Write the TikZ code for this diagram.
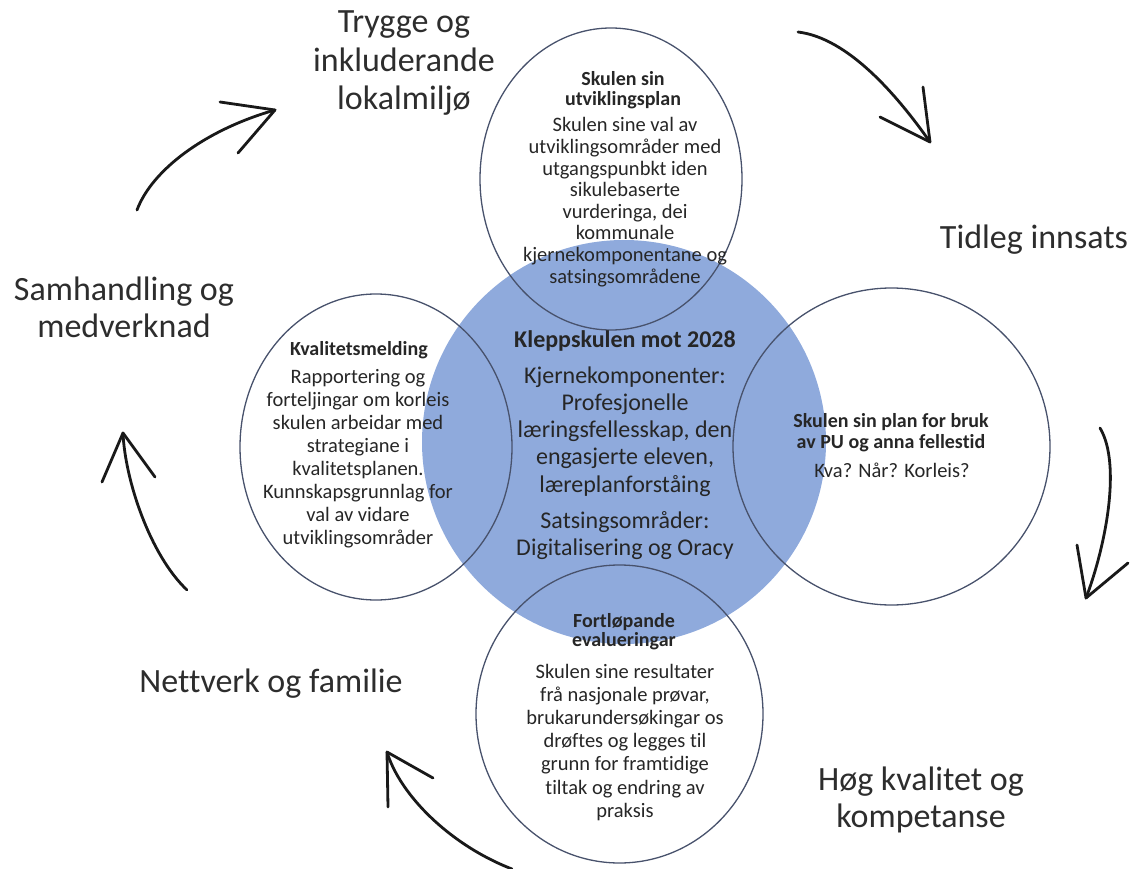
\documentclass[tikz,border=0pt]{standalone}
\usepackage{fontspec}
\setmainfont{Carlito}[Ligatures=NoCommon]
\usetikzlibrary{shapes.geometric}
\definecolor{bluefill}{HTML}{8FAADC}
\definecolor{ringcol}{RGB}{72,82,108}
\definecolor{txt}{RGB}{38,38,38}
\definecolor{lbl}{RGB}{45,45,45}
\definecolor{arrcol}{RGB}{25,25,25}
\newcommand{\blk}[3]{\fontsize{#1}{#2}\selectfont\begin{tabular}[t]{@{}c@{}}#3\end{tabular}}
\tikzset{
  ring/.style={draw=ringcol, line width=1.3pt, fill=none, inner sep=0pt},
  ttl/.style={anchor=base, inner sep=0pt, text=txt, font=\bfseries},
  body/.style={anchor=base, inner sep=0pt, text=txt},
  outer/.style={anchor=base, inner sep=0pt, text=lbl},
  arr/.style={draw=arrcol, line width=2.8pt, line cap=round, line join=round}
}
\begin{document}
\begin{tikzpicture}[x=1pt,y=-1pt]
\useasboundingbox (0,0) rectangle (1135,869);
% central disc
\node[circle, fill=bluefill, draw=none, minimum size=404pt, inner sep=0pt] (core) at (624,442) {};
% rings
\node[ring, ellipse, minimum width=262pt, minimum height=302pt] (top) at (611,179) {};
\node[ring, ellipse, minimum width=272pt, minimum height=306pt] (left) at (376,447) {};
\node[ring, ellipse, minimum width=317pt, minimum height=317pt] (right) at (891.5,446.5) {};
\node[ring, ellipse, minimum width=287pt, minimum height=298pt] (bottom) at (619.5,714) {};
% top circle text
\node[ttl] (topT) at (623,86) {\blk{20}{17.5}{Skulen sin\\utviklingsplan}};
\node[body] (topB) at (625,132) {\blk{20.5}{21.6}{Skulen sine val av\\utviklingsområder med\\utgangspunbkt iden\\sikulebaserte\\vurderinga, dei\\kommunale\\kjernekomponentane og\\satsingsområdene}};
% left circle text
\node[ttl] (leftT) at (359,355) {\blk{20}{23}{Kvalitetsmelding}};
\node[body] (leftB) at (358,383) {\blk{20.5}{23.1}{Rapportering og\\forteljingar om korleis\\skulen arbeidar med\\strategiane i\\kvalitetsplanen.\\Kunnskapsgrunnlag for\\val av vidare\\utviklingsområder}};
% centre text
\node[ttl] (coreT) at (625,347) {\blk{24}{28}{Kleppskulen mot 2028}};
\node[body] (coreB) at (625,383) {\blk{24}{27.3}{Kjernekomponenter:\\Profesjonelle\\læringsfellesskap, den\\engasjerte eleven,\\læreplanforståing}};
\node[body] (coreS) at (625,528) {\blk{24}{27}{Satsingsområder:\\Digitalisering og Oracy}};
% right circle text
\node[ttl] (rightT) at (891,427) {\blk{20}{21}{Skulen sin plan for bruk\\av PU og anna fellestid}};
\node[body] (rightB) at (892,477) {\blk{20.5}{23}{Kva? Når? Korleis?}};
% bottom circle text
\node[ttl] (botT) at (624,627) {\blk{20}{18}{Fortløpande\\evalueringar}};
\node[body] (botB) at (625,678) {\blk{20.5}{23.2}{Skulen sine resultater\\frå nasjonale prøvar,\\brukarundersøkingar os\\drøftes og legges til\\grunn for framtidige\\tiltak og endring av\\praksis}};
% outer labels
\node[outer] (trygge) at (404,33) {\blk{34}{38.5}{Trygge og\\inkluderande\\lokalmiljø}};
\node[outer] (tidleg) at (1034,248) {\blk{34}{38}{Tidleg innsats}};
\node[outer] (hog) at (921,790) {\blk{34}{37}{Høg kvalitet og\\kompetanse}};
\node[outer] (nett) at (271,692) {\blk{34}{38}{Nettverk og familie}};
\node[outer] (samh) at (124,300) {\blk{34}{37}{Samhandling og\\medverknad}};
% arrows
\coordinate (t1) at (137,210); \coordinate (h1) at (275,110);
\coordinate (b1a) at (220,102); \coordinate (b1b) at (238,153);
\coordinate (t2) at (798,32); \coordinate (h2) at (930,142);
\coordinate (b2a) at (923,87); \coordinate (b2b) at (880,117);
\coordinate (t3) at (1100,428); \coordinate (h3) at (1086,598);
\coordinate (b3a) at (1077,545); \coordinate (b3b) at (1128,563);
\coordinate (t4) at (512,869); \coordinate (h4) at (387,752);
\coordinate (b4a) at (388,807); \coordinate (b4b) at (433,778);
\coordinate (t5) at (187,590); \coordinate (h5) at (123,433);
\coordinate (b5a) at (102,482); \coordinate (b5b) at (155,477);
\draw[arr] (t1) .. controls (152,170) and (205,130) .. (h1);
\draw[arr] (b1a) -- (h1) -- (b1b);
\draw[arr] (t2) .. controls (848,38) and (897,95) .. (h2);
\draw[arr] (b2a) -- (h2) -- (b2b);
\draw[arr] (t3) .. controls (1122,465) and (1105,548) .. (h3);
\draw[arr] (b3a) -- (h3) -- (b3b);
\draw[arr] (t4) .. controls (450,845) and (400,795) .. (h4);
\draw[arr] (b4a) -- (h4) -- (b4b);
\draw[arr] (t5) .. controls (150,555) and (125,480) .. (h5);
\draw[arr] (b5a) -- (h5) -- (b5b);
\end{tikzpicture}
\end{document}
